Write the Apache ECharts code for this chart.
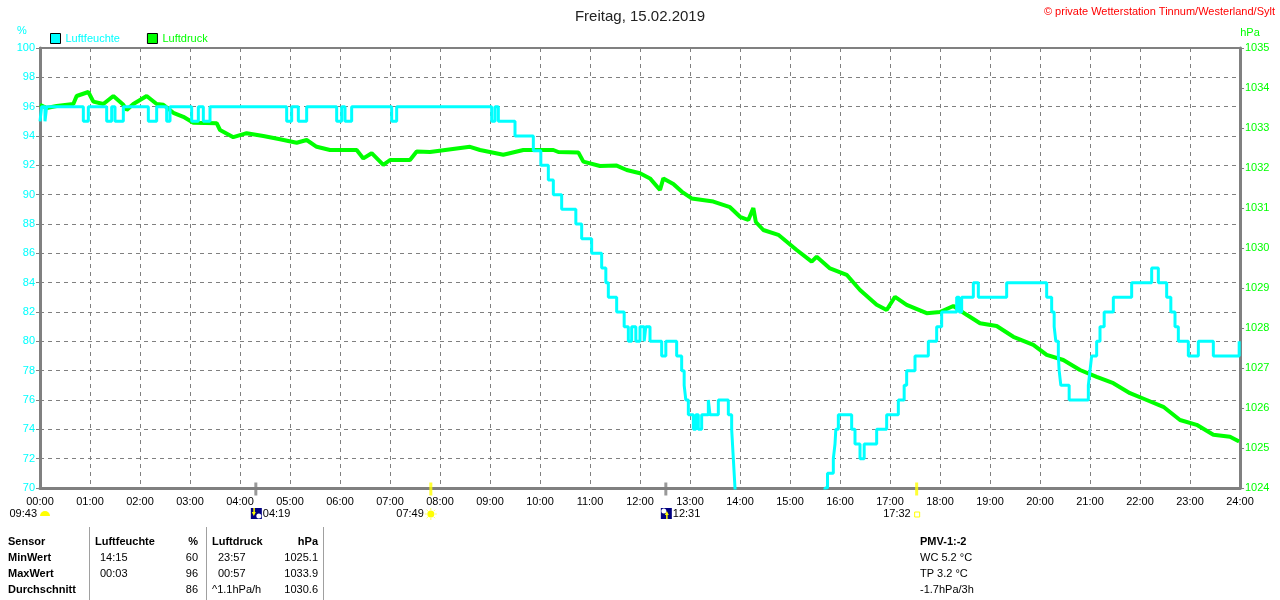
<!DOCTYPE html>
<html>
<head>
<meta charset="utf-8">
<title>Wetterstation Tinnum</title>
<script src="https://cdn.jsdelivr.net/npm/echarts@6/dist/echarts.min.js"></script>
<style>
  html, body { margin: 0; padding: 0; background: #fff; }
  #main { width: 1280px; height: 600px; }
</style>
</head>
<body>
<div id="main"></div>
<script>
// Minuten seit Mitternacht / Wert (Treppenkurve Luftfeuchte)
var humTime = [0, 2, 6, 8, 52, 58, 80, 86, 90, 100, 130, 140, 152, 156, 182, 190, 196, 204,
    296, 302, 310, 320, 356, 362, 366, 374, 422, 428, 542, 546, 550, 570, 592, 601, 610, 616,
    626, 643, 650, 662, 674, 679, 682, 692, 701, 706, 710, 715, 720, 725, 727, 732, 746, 751,
    764, 770, 773, 775, 778, 784, 787, 790, 794, 802, 804, 814, 826, 830, 832, 834, 836, 840,
    855, 900, 930, 942, 945, 952, 954, 955, 958, 974, 978, 984, 989, 1004, 1016, 1030, 1037,
    1040, 1050, 1066, 1076, 1082, 1100, 1103, 1106, 1120, 1126, 1160, 1208, 1214, 1217, 1219,
    1222, 1223, 1225, 1235, 1258, 1260, 1262, 1268, 1272, 1277, 1288, 1310, 1334, 1342, 1352,
    1357, 1362, 1366, 1378, 1390, 1408, 1439];
var humVal = [95, 96, 95, 96, 95, 96, 95, 96, 95, 96, 95, 96, 95, 96, 95, 96, 95, 96,
    95, 96, 95, 96, 95, 96, 95, 96, 95, 96, 95, 96, 95, 94, 93, 92, 91, 90,
    89, 88, 87, 86, 85, 84, 83, 82, 81, 80, 81, 80, 81, 80, 81, 80, 79, 80,
    79, 78, 77, 76, 75, 74, 75, 74, 75, 76, 75, 76, 75, 74, 72, 70, 66, 62,
    60, 62, 65, 70, 71, 72, 73, 74, 75, 74, 73, 72, 73, 74, 75, 76, 77,
    78, 79, 80, 81, 82, 83, 82, 83, 84, 83, 84, 83, 82, 81, 80,
    79, 78, 77, 76, 77, 78, 79, 80, 81, 82, 83, 84, 85, 84, 83,
    82, 81, 80, 79, 80, 79, 80];

var pressTime = [0, 8, 20, 40, 44, 58, 64, 76, 88, 100, 104, 112, 128, 140, 148, 160, 172, 184,
    212, 216, 232, 248, 268, 288, 308, 320, 332, 348, 380, 388, 398, 412, 420, 444, 452, 468,
    516, 528, 556, 580, 616, 622, 646, 652, 672, 692, 704, 720, 732, 744, 748, 760, 770, 782,
    808, 828, 840, 850, 856, 859, 868, 886, 908, 926, 932, 948, 968, 984, 1004, 1016, 1026,
    1040, 1064, 1080, 1096, 1112, 1128, 1148, 1168, 1192, 1208, 1228, 1248, 1268, 1288, 1308,
    1328, 1348, 1368, 1388, 1408, 1428, 1439];
var pressVal = [1033.58, 1033.5, 1033.55, 1033.6, 1033.8, 1033.9, 1033.66, 1033.6, 1033.8, 1033.58,
    1033.45, 1033.6, 1033.8, 1033.6, 1033.58, 1033.38, 1033.28, 1033.13,
    1033.12, 1032.95, 1032.77, 1032.87, 1032.8, 1032.72, 1032.63, 1032.7, 1032.53, 1032.45,
    1032.45, 1032.24, 1032.37, 1032.08, 1032.2, 1032.2, 1032.41, 1032.4,
    1032.53, 1032.45, 1032.33, 1032.45, 1032.45, 1032.4, 1032.39, 1032.16, 1032.05, 1032.06,
    1031.95, 1031.87, 1031.74, 1031.45, 1031.74, 1031.6, 1031.41, 1031.24,
    1031.16, 1031.02, 1030.78, 1030.7, 1031.0, 1030.65, 1030.45, 1030.33, 1029.95, 1029.66,
    1029.78, 1029.49, 1029.33, 1028.95, 1028.58, 1028.45, 1028.78,
    1028.58, 1028.37, 1028.4, 1028.55, 1028.33, 1028.12, 1028.05, 1027.78, 1027.58, 1027.33,
    1027.2, 1026.95, 1026.78, 1026.62, 1026.37,
    1026.2, 1026.03, 1025.7, 1025.58, 1025.33, 1025.28, 1025.16];

// Sonne / Mond Ereignisse
var eventTime = [259, 469, 751, 1052];
var eventLabel = ['04:19', '07:49', '12:31', '17:32'];
var eventType = ['moonset', 'sunrise', 'moonrise', 'sunset'];
var dayLength = '09:43';

// Tabelle unten
var tableRows = ['Sensor', 'MinWert', 'MaxWert', 'Durchschnitt'];
var humCol = [['Luftfeuchte', '%'], ['14:15', '60'], ['00:03', '96'], ['', '86']];
var pressCol = [['Luftdruck', 'hPa'], ['23:57', '1025.1'], ['00:57', '1033.9'], ['^1.1hPa/h', '1030.6']];
var pmvLines = ['PMV-1:-2', 'WC 5.2 °C', 'TP 3.2 °C', '-1.7hPa/3h'];

var FONT = 'Liberation Sans, Arial, sans-serif';
var CYAN = '#00ffff';
var GREEN = '#00ff00';
var GRAY = '#808080';

function zip(a, b) {
    return a.map(function (v, i) { return [v, b[i]]; });
}
function pad(n) { return (n < 10 ? '0' : '') + n; }

var myChart = echarts.init(document.getElementById('main'));

var option = {
    animation: false,
    backgroundColor: '#fff',
    textStyle: { fontFamily: FONT },
    title: {
        text: 'Freitag, 15.02.2019',
        left: 'center',
        top: 4,
        textStyle: { fontFamily: FONT, fontSize: 15, fontWeight: 'normal', color: '#222' }
    },
    legend: {
        left: 45,
        top: 28,
        itemWidth: 10,
        itemHeight: 10,
        itemGap: 27,
        icon: 'rect',
        textStyle: { fontFamily: FONT, fontSize: 11 },
        data: [
            { name: 'Luftfeuchte', textStyle: { color: CYAN }, itemStyle: { color: CYAN, borderColor: '#000', borderWidth: 1 } },
            { name: 'Luftdruck', textStyle: { color: GREEN }, itemStyle: { color: GREEN, borderColor: '#000', borderWidth: 1 } }
        ]
    },
    grid: {
        left: 40,
        right: 40,
        top: 48,
        bottom: 112,
        show: true,
        borderColor: GRAY,
        borderWidth: 2,
        backgroundColor: 'transparent'
    },
    xAxis: {
        type: 'value',
        min: 0,
        max: 1440,
        interval: 60,
        axisLine: { show: true, lineStyle: { color: GRAY, width: 3 } },
        axisTick: { show: false },
        axisLabel: {
            color: '#000',
            fontSize: 11,
            fontFamily: FONT,
            margin: 8,
            formatter: function (v) { return pad(Math.round(v / 60)) + ':00'; }
        },
        splitLine: { show: true, lineStyle: { color: GRAY, type: [4, 4], width: 1 } }
    },
    yAxis: [{
        type: 'value',
        min: 70,
        max: 100,
        interval: 2,
        position: 'left',
        name: '%',
        nameGap: 12,
        nameTextStyle: { color: CYAN, fontSize: 11, fontFamily: FONT, padding: [0, 36, 0, 0] },
        axisLine: { show: true, lineStyle: { color: GRAY, width: 3 } },
        axisTick: { show: true, length: 4, lineStyle: { color: GRAY } },
        axisLabel: { color: CYAN, fontSize: 11, fontFamily: FONT, margin: 5 },
        splitLine: { show: true, lineStyle: { color: GRAY, type: [4, 4], width: 1 } }
    }, {
        type: 'value',
        min: 1024,
        max: 1035,
        interval: 1,
        position: 'right',
        name: 'hPa',
        nameGap: 10,
        nameTextStyle: { color: GREEN, fontSize: 11, fontFamily: FONT, padding: [0, 0, 0, 20] },
        axisLine: { show: true, lineStyle: { color: GRAY, width: 3 } },
        axisTick: { show: true, length: 4, lineStyle: { color: GRAY } },
        axisLabel: {
            color: GREEN, fontSize: 11, fontFamily: FONT, margin: 5,
            formatter: function (v) { return String(v); }
        },
        splitLine: { show: false }
    }],
    series: [{
        name: 'Luftdruck',
        type: 'line',
        yAxisIndex: 1,
        data: zip(pressTime, pressVal),
        symbol: 'none',
        lineStyle: { color: GREEN, width: 4 },
        itemStyle: { color: GREEN },
        z: 2
    }, {
        name: 'Luftfeuchte',
        type: 'line',
        yAxisIndex: 0,
        step: 'end',
        data: zip(humTime, humVal),
        symbol: 'none',
        clip: true,
        lineStyle: { color: CYAN, width: 3 },
        itemStyle: { color: CYAN },
        z: 3
    }, {
        name: 'Ereignis',
        type: 'scatter',
        yAxisIndex: 0,
        data: eventTime.map(function (t, i) {
            var sun = eventType[i].indexOf('sun') === 0;
            return { value: [t, 70], itemStyle: { color: sun ? '#ffff00' : GRAY } };
        }),
        symbol: 'rect',
        symbolSize: [3, 13],
        symbolOffset: [0, 1],
        clip: false,
        silent: true,
        z: 4
    }]
};

myChart.setOption(option);

// Beschriftungen unter der Zeitachse und Tabelle
var g = [];
var rowY = 518;
var x0 = myChart.convertToPixel({ xAxisIndex: 0 }, 0);

function txt(x, y, s, opt) {
    opt = opt || {};
    g.push({
        type: 'text', x: x, y: y, silent: true,
        style: {
            text: s, fill: opt.color || '#000', align: opt.align || 'left', verticalAlign: 'middle',
            font: (opt.bold ? 'bold ' : '') + (opt.size || 11) + 'px ' + FONT
        }
    });
}

// Tageslänge
txt(x0 - 3, rowY - 4, dayLength, { align: 'right' });
g.push({ type: 'sector', silent: true, shape: { cx: x0 + 5, cy: rowY - 2, r: 5, startAngle: Math.PI, endAngle: Math.PI * 2 }, style: { fill: '#ffff00' } });

eventTime.forEach(function (t, i) {
    var px = myChart.convertToPixel({ xAxisIndex: 0 }, t);
    var type = eventType[i];
    if (type === 'moonset' || type === 'moonrise') {
        g.push({ type: 'rect', silent: true, shape: { x: px - 5, y: rowY - 10, width: 11, height: 11 }, style: { fill: '#000080' } });
        if (type === 'moonset') {
            g.push({ type: 'circle', silent: true, shape: { cx: px + 3, cy: rowY - 2, r: 2.5 }, style: { fill: '#fff' } });
            g.push({ type: 'polygon', silent: true, shape: { points: [[px - 4, rowY - 6], [px, rowY - 6], [px - 2, rowY - 2]] }, style: { fill: '#ffff00' } });
            g.push({ type: 'rect', silent: true, shape: { x: px - 2.5, y: rowY - 10, width: 1.5, height: 5 }, style: { fill: '#ffff00' } });
        } else {
            g.push({ type: 'circle', silent: true, shape: { cx: px - 2, cy: rowY - 7, r: 2.5 }, style: { fill: '#fff' } });
            g.push({ type: 'polygon', silent: true, shape: { points: [[px - 1, rowY - 3], [px + 3, rowY - 3], [px + 1, rowY - 7]] }, style: { fill: '#ffff00' } });
            g.push({ type: 'rect', silent: true, shape: { x: px + 0.3, y: rowY - 3, width: 1.5, height: 4 }, style: { fill: '#ffff00' } });
        }
        txt(px + 7, rowY - 4, eventLabel[i]);
    } else if (type === 'sunrise') {
        g.push({ type: 'circle', silent: true, shape: { cx: px, cy: rowY - 4, r: 3.5 }, style: { fill: '#ffff00' } });
        for (var k = 0; k < 8; k++) {
            var a = k * Math.PI / 4;
            g.push({ type: 'line', silent: true, shape: { x1: px + Math.cos(a) * 4, y1: rowY - 4 + Math.sin(a) * 4, x2: px + Math.cos(a) * 6, y2: rowY - 4 + Math.sin(a) * 6 }, style: { stroke: '#ffff66', lineWidth: 1 } });
        }
        txt(px - 7, rowY - 4, eventLabel[i], { align: 'right' });
    } else {
        g.push({ type: 'rect', silent: true, shape: { x: px - 2, y: rowY - 6, width: 5, height: 5 }, style: { fill: '#fff', stroke: '#ffff00', lineWidth: 1 } });
        txt(px - 6, rowY - 4, eventLabel[i], { align: 'right' });
    }
});

// Copyright
txt(1275, 12, '© private Wetterstation Tinnum/Westerland/Sylt', { align: 'right', color: '#ff0000' });

// Tabelle
var tY = [542, 558, 574, 590];
[89, 206, 323].forEach(function (lx) {
    g.push({ type: 'line', silent: true, shape: { x1: lx + 0.5, y1: 527, x2: lx + 0.5, y2: 600 }, style: { stroke: '#a0a0a0', lineWidth: 1 } });
});
tableRows.forEach(function (r, i) {
    var head = i === 0;
    txt(8, tY[i], r, { bold: true });
    if (head) {
        txt(95, tY[i], humCol[i][0], { bold: true });
        txt(198, tY[i], humCol[i][1], { bold: true, align: 'right' });
        txt(212, tY[i], pressCol[i][0], { bold: true });
        txt(318, tY[i], pressCol[i][1], { bold: true, align: 'right' });
    } else {
        txt(100, tY[i], humCol[i][0]);
        txt(198, tY[i], humCol[i][1], { align: 'right' });
        txt(i === 3 ? 212 : 218, tY[i], pressCol[i][0]);
        txt(318, tY[i], pressCol[i][1], { align: 'right' });
    }
});
pmvLines.forEach(function (s, i) {
    txt(920, tY[i], s, { bold: i === 0 });
});

myChart.setOption({ graphic: g });

window.onresize = function () {
    myChart.resize();
};
</script>
</body>
</html>
